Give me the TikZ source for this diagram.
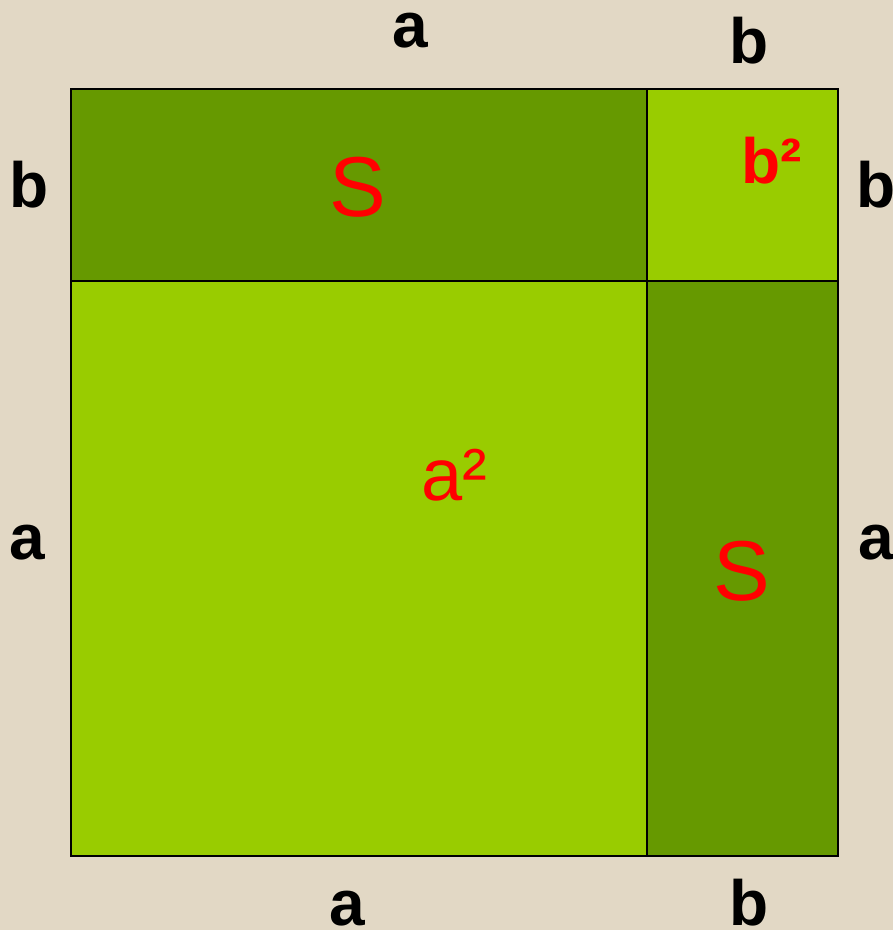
\documentclass[tikz,border=0pt]{standalone}
\usepackage{fontspec}
\setmainfont{Liberation Sans}
\definecolor{bgbeige}{HTML}{E2D8C5}
\definecolor{darkgr}{HTML}{669900}
\definecolor{lightgr}{HTML}{99CC00}
\definecolor{redtxt}{HTML}{FF0000}
\begin{document}
\begin{tikzpicture}[x=1pt,y=-1pt,
  side/.style={inner sep=0pt,anchor=base,font=\fontsize{64}{64}\selectfont\bfseries,text=black},
  area/.style={inner sep=0pt,font=\fontsize{85}{85}\selectfont,text=redtxt},
  cell/.style={draw=black,line width=2pt}]
\useasboundingbox (0,0) rectangle (893,930);
\fill[bgbeige] (0,0) rectangle (893,930);
% cells
\path[cell,fill=darkgr] (71,89) rectangle (647,281) coordinate (tl);
\path[cell,fill=lightgr] (647,89) rectangle (838,281);
\path[cell,fill=lightgr] (71,281) rectangle (647,856);
\path[cell,fill=darkgr] (647,281) rectangle (838,856);
% side labels
\node[side] (ta) at (410,47) {a};
\node[side] (tb) at (749,63) {b};
\node[side] (lb) at (29,207) {b};
\node[side] (rb) at (876,207) {b};
\node[side] (la) at (27,559) {a};
\node[side] (ra) at (876,559) {a};
\node[side] (ba) at (347,925) {a};
\node[side] (bb) at (749,925) {b};
% area labels
\node[area,anchor=base] (s1) at (358,216) {S};
\node[area,anchor=base] (s2) at (742,600) {S};
\node[inner sep=0pt,anchor=base west,font=\fontsize{74}{74}\selectfont,text=redtxt] (a2) at (421,500) {a²};
\node[inner sep=0pt,anchor=base west,font=\fontsize{64}{64}\selectfont\bfseries,text=redtxt] (b2) at (741,183) {b²};
\end{tikzpicture}
\end{document}
